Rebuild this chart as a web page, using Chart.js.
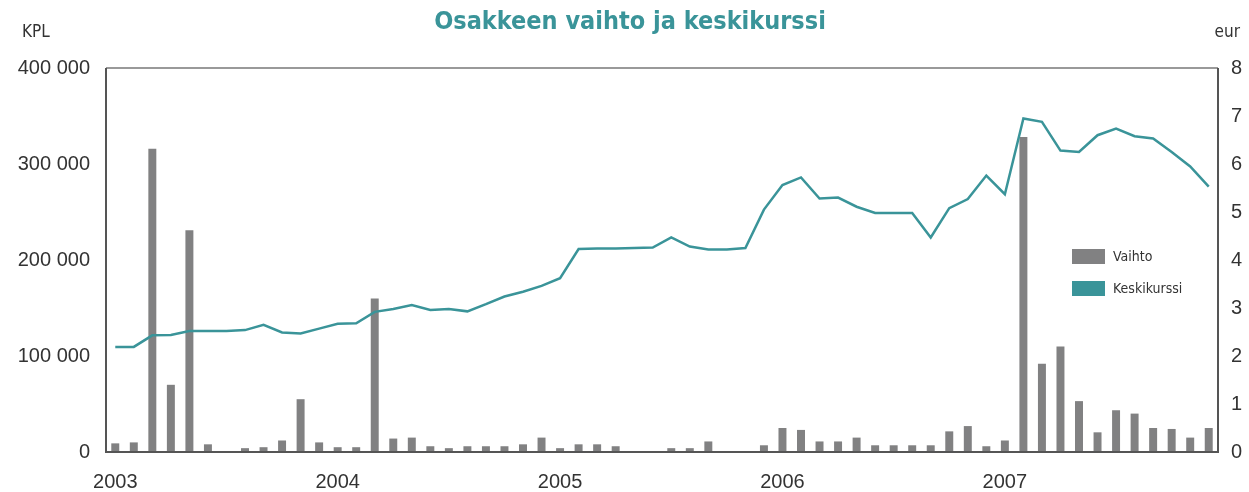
<!DOCTYPE html>
<html>
<head>
<meta charset="utf-8">
<script src="https://cdn.jsdelivr.net/npm/chart.js@4"></script>
<style>
  html, body { margin: 0; padding: 0; background: #fff; }
  #wrap { position: relative; width: 1249px; height: 492px; }
</style>
</head>
<body>
<div id="wrap"><canvas id="myChart" width="1249" height="492"></canvas></div>
<script>
// tick labels (one per year, shown at January)
const vuodet = ['2003', '2004', '2005', '2006', '2007']

// monthly turnover, pcs
const vaihto = [
  9000, 10000, 316000, 70000, 231000, 8000, 0, 4000, 5000, 12000, 55000, 10000,
  5000, 5000, 160000, 14000, 15000, 6000, 4000, 6000, 6000, 6000, 8000, 15000,
  4000, 8000, 8000, 6000, 0, 0, 4000, 4000, 11000, 0, 0, 7000,
  25000, 23000, 11000, 11000, 15000, 7000, 7000, 7000, 7000, 21500, 27000, 6000,
  12000, 328000, 92000, 110000, 53000, 20500, 43500, 40000, 25000, 24000, 15000, 25000
]

// monthly average price, eur
const keskikurssi = [
  2.19, 2.19, 2.43, 2.44, 2.52, 2.52, 2.52, 2.54, 2.65, 2.49, 2.47, 2.57,
  2.67, 2.68, 2.92, 2.98, 3.06, 2.96, 2.98, 2.93, 3.08, 3.24, 3.34, 3.46,
  3.62, 4.23, 4.24, 4.24, 4.25, 4.26, 4.47, 4.28, 4.22, 4.22, 4.25, 5.05,
  5.56, 5.72, 5.28, 5.30, 5.11, 4.98, 4.98, 4.98, 4.47, 5.08, 5.27, 5.76,
  5.37, 6.95, 6.88, 6.28, 6.25, 6.60, 6.74, 6.58, 6.53, 6.25, 5.95, 5.53
]

let kuukaudet = []
vuodet.forEach(v => {
  for (let k = 1; k <= 12; k++) kuukaudet.push(v + '-' + k)
})

const harmaa = '#818182'
const turkoosi = '#3a9499'
const tekstiVari = '#333333'
const numFont = { family: '"Liberation Sans", Arial, sans-serif', size: 20 }
const kapeaFont = '"Liberation Sans Narrow", "DejaVu Sans Condensed", sans-serif'

// title, unit labels, frame and legend
const koristeet = {
  id: 'koristeet',
  afterDraw(chart) {
    const ctx = chart.ctx
    const a = chart.chartArea
    ctx.save()
    ctx.strokeStyle = '#777'
    ctx.lineWidth = 1.5
    ctx.beginPath()
    ctx.moveTo(a.left, a.top)
    ctx.lineTo(a.right, a.top)
    ctx.stroke()
    ctx.strokeStyle = '#555'
    ctx.lineWidth = 2
    ctx.beginPath()
    ctx.moveTo(a.left, a.top)
    ctx.lineTo(a.left, a.bottom)
    ctx.lineTo(a.right, a.bottom)
    ctx.lineTo(a.right, a.top)
    ctx.stroke()

    ctx.fillStyle = turkoosi
    ctx.font = 'bold 25px "DejaVu Sans Condensed", "Liberation Sans Narrow", sans-serif'
    ctx.textAlign = 'center'
    ctx.textBaseline = 'middle'
    ctx.fillText('Osakkeen vaihto ja keskikurssi', 630, 22)

    ctx.fillStyle = tekstiVari
    ctx.font = '17px ' + kapeaFont
    ctx.textAlign = 'left'
    ctx.fillText('KPL', 22, 33)
    ctx.textAlign = 'right'
    ctx.fillText('eur', 1240, 33)

    // legend
    const sarjat = chart.data.datasets
    const rivit = [sarjat[1], sarjat[0]]
    ctx.font = '14px ' + kapeaFont
    ctx.textAlign = 'left'
    rivit.forEach((s, i) => {
      const y = 249 + i * 32
      ctx.fillStyle = s.type === 'line' ? s.borderColor : s.backgroundColor
      ctx.fillRect(1072, y, 33, 15)
      ctx.fillStyle = tekstiVari
      ctx.fillText(s.label, 1113, y + 8)
    })
    ctx.restore()
  }
}

const ctx = document.getElementById('myChart').getContext('2d')
const myChart = new Chart(ctx, {
  data: {
    labels: kuukaudet,
    datasets: [
      {
        type: 'line',
        label: 'Keskikurssi',
        data: keskikurssi,
        yAxisID: 'yEur',
        borderColor: turkoosi,
        borderWidth: 2.5,
        pointRadius: 0,
        tension: 0,
        order: 0
      },
      {
        type: 'bar',
        label: 'Vaihto',
        data: vaihto,
        yAxisID: 'yKpl',
        backgroundColor: harmaa,
        categoryPercentage: 1,
        barPercentage: 0.43,
        order: 1
      }
    ]
  },
  options: {
    responsive: false,
    animation: false,
    layout: { padding: { top: 68, left: 0, right: 0, bottom: 0 } },
    plugins: {
      legend: { display: false },
      title: { display: false },
      tooltip: { enabled: false }
    },
    scales: {
      x: {
        grid: { display: false, drawTicks: false },
        border: { display: false },
        ticks: {
          autoSkip: false,
          maxRotation: 0,
          padding: 18,
          color: tekstiVari,
          font: numFont,
          callback: (val, i) => (i % 12 === 0 ? vuodet[i / 12] : '')
        },
        afterFit: s => { s.height = 40 }
      },
      yKpl: {
        position: 'left',
        min: 0,
        max: 400000,
        grid: { display: false, drawTicks: false },
        border: { display: false },
        ticks: {
          stepSize: 100000,
          padding: 16,
          color: tekstiVari,
          font: numFont,
          callback: v => v.toLocaleString('en-US').replace(/,/g, ' ')
        },
        afterFit: s => { s.width = 106 }
      },
      yEur: {
        position: 'right',
        min: 0,
        max: 8,
        grid: { display: false, drawTicks: false },
        border: { display: false },
        ticks: {
          stepSize: 1,
          padding: 13,
          color: tekstiVari,
          font: numFont
        },
        afterFit: s => { s.width = 31 }
      }
    }
  },
  plugins: [koristeet]
})
</script>
</body>
</html>
